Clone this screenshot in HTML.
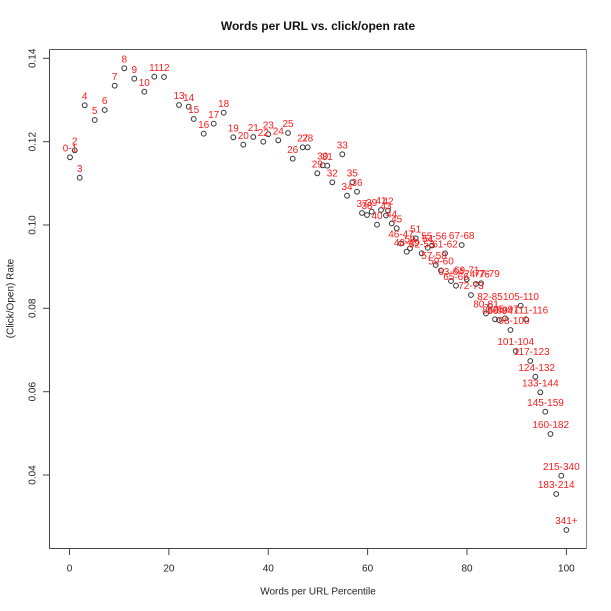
<!DOCTYPE html>
<html>
<head>
<meta charset="utf-8">
<style>
  html,body{margin:0;padding:0;background:#fff;}
  svg{display:block;}
  text{font-family:"Liberation Sans", Arial, sans-serif;}
  .lab{fill:#ff1a1a;font-size:10px;text-anchor:middle;}
  .tk{fill:#222;font-size:10px;text-anchor:middle;}
  circle{fill:none;stroke:#333;stroke-width:1;}
</style>
</head>
<body>
<svg width="611" height="611" viewBox="0 0 611 611" xmlns="http://www.w3.org/2000/svg">
  <rect x="0" y="0" width="611" height="611" fill="#fff"/>
  <!-- title -->
  <text x="318" y="30" font-size="12" font-weight="bold" text-anchor="middle" fill="#111">Words per URL vs. click/open rate</text>

  <!-- plot box -->
  <line x1="49.5" y1="49.5" x2="586.5" y2="49.5" stroke="#555" stroke-width="1"/>
  <line x1="586.5" y1="49.5" x2="586.5" y2="548.5" stroke="#888" stroke-width="1"/>
  <line x1="49.5" y1="548.5" x2="586.5" y2="548.5" stroke="#444" stroke-width="1"/>
  <line x1="49.5" y1="49.5" x2="49.5" y2="548.5" stroke="#444" stroke-width="1"/>

  <!-- x ticks -->
  <g stroke="#444" stroke-width="1">
    <line x1="69.5" y1="548.5" x2="69.5" y2="555"/>
    <line x1="168.9" y1="548.5" x2="168.9" y2="555"/>
    <line x1="268.3" y1="548.5" x2="268.3" y2="555"/>
    <line x1="367.6" y1="548.5" x2="367.6" y2="555"/>
    <line x1="467" y1="548.5" x2="467" y2="555"/>
    <line x1="566.4" y1="548.5" x2="566.4" y2="555"/>
  </g>
  <text class="tk" x="69.5" y="571.5">0</text>
  <text class="tk" x="168.9" y="571.5">20</text>
  <text class="tk" x="268.3" y="571.5">40</text>
  <text class="tk" x="367.6" y="571.5">60</text>
  <text class="tk" x="467" y="571.5">80</text>
  <text class="tk" x="566.4" y="571.5">100</text>
  <text class="tk" x="318" y="594.5">Words per URL Percentile</text>

  <!-- y ticks -->
  <g stroke="#444" stroke-width="1">
    <line x1="43" y1="58.3" x2="49.5" y2="58.3"/>
    <line x1="43" y1="141.7" x2="49.5" y2="141.7"/>
    <line x1="43" y1="225" x2="49.5" y2="225"/>
    <line x1="43" y1="308.3" x2="49.5" y2="308.3"/>
    <line x1="43" y1="391.7" x2="49.5" y2="391.7"/>
    <line x1="43" y1="475" x2="49.5" y2="475"/>
  </g>
  <text class="tk" transform="translate(35.5,58.3) rotate(-90)">0.14</text>
  <text class="tk" transform="translate(35.5,141.7) rotate(-90)">0.12</text>
  <text class="tk" transform="translate(35.5,225) rotate(-90)">0.10</text>
  <text class="tk" transform="translate(35.5,308.3) rotate(-90)">0.08</text>
  <text class="tk" transform="translate(35.5,391.7) rotate(-90)">0.06</text>
  <text class="tk" transform="translate(35.5,475) rotate(-90)">0.04</text>
  <text class="tk" transform="translate(13.5,298.5) rotate(-90)">(Click/Open) Rate</text>

  <!-- points -->
  <g>
    <circle cx="70" cy="157.3" r="2.4"/>
    <circle cx="74.7" cy="150.3" r="2.4"/>
    <circle cx="79.7" cy="177.7" r="2.4"/>
    <circle cx="84.7" cy="105.3" r="2.4"/>
    <circle cx="94.7" cy="120" r="2.4"/>
    <circle cx="104.7" cy="110" r="2.4"/>
    <circle cx="114.7" cy="85.7" r="2.4"/>
    <circle cx="124.3" cy="68.3" r="2.4"/>
    <circle cx="134.3" cy="78.7" r="2.4"/>
    <circle cx="144.3" cy="91.7" r="2.4"/>
    <circle cx="154.3" cy="76.7" r="2.4"/>
    <circle cx="164" cy="77" r="2.4"/>
    <circle cx="179" cy="105" r="2.4"/>
    <circle cx="188.7" cy="106.7" r="2.4"/>
    <circle cx="193.7" cy="119" r="2.4"/>
    <circle cx="203.7" cy="133.7" r="2.4"/>
    <circle cx="213.7" cy="123.7" r="2.4"/>
    <circle cx="223.7" cy="112.7" r="2.4"/>
    <circle cx="233.3" cy="137.3" r="2.4"/>
    <circle cx="243.3" cy="144.7" r="2.4"/>
    <circle cx="253.3" cy="137" r="2.4"/>
    <circle cx="263.3" cy="141.7" r="2.4"/>
    <circle cx="268.3" cy="134.3" r="2.4"/>
    <circle cx="278.3" cy="140.3" r="2.4"/>
    <circle cx="288" cy="133" r="2.4"/>
    <circle cx="292.7" cy="158.7" r="2.4"/>
    <circle cx="302.7" cy="147.3" r="2.4"/>
    <circle cx="307.7" cy="147.3" r="2.4"/>
    <circle cx="317.3" cy="173.3" r="2.4"/>
    <circle cx="322.7" cy="165.3" r="2.4"/>
    <circle cx="327.3" cy="165.7" r="2.4"/>
    <circle cx="332.3" cy="182.3" r="2.4"/>
    <circle cx="342.3" cy="154.3" r="2.4"/>
    <circle cx="347" cy="195.7" r="2.4"/>
    <circle cx="352.3" cy="182.3" r="2.4"/>
    <circle cx="357" cy="191.7" r="2.4"/>
    <circle cx="362" cy="213" r="2.4"/>
    <circle cx="367" cy="215" r="2.4"/>
    <circle cx="371.7" cy="211.7" r="2.4"/>
    <circle cx="377" cy="224.7" r="2.4"/>
    <circle cx="381" cy="210" r="2.4"/>
    <circle cx="388" cy="210.5" r="2.4"/>
    <circle cx="386" cy="215.5" r="2.4"/>
    <circle cx="391.7" cy="223.5" r="2.4"/>
    <circle cx="396.7" cy="228.3" r="2.4"/>
    <circle cx="401" cy="243.5" r="2.4"/>
    <circle cx="406.7" cy="251.7" r="2.4"/>
    <circle cx="410" cy="248.3" r="2.4"/>
    <circle cx="415.7" cy="238.3" r="2.4"/>
    <circle cx="421.7" cy="253.3" r="2.4"/>
    <circle cx="427.7" cy="247.7" r="2.4"/>
    <circle cx="432" cy="245.5" r="2.4"/>
    <circle cx="435.7" cy="265" r="2.4"/>
    <circle cx="441" cy="270.5" r="2.4"/>
    <circle cx="445" cy="253.3" r="2.4"/>
    <circle cx="451" cy="281" r="2.4"/>
    <circle cx="456" cy="285.7" r="2.4"/>
    <circle cx="461.7" cy="245" r="2.4"/>
    <circle cx="466.7" cy="279.3" r="2.4"/>
    <circle cx="471" cy="295" r="2.4"/>
    <circle cx="476" cy="284" r="2.4"/>
    <circle cx="481" cy="283.3" r="2.4"/>
    <circle cx="486" cy="313.5" r="2.4"/>
    <circle cx="490" cy="306" r="2.4"/>
    <circle cx="495" cy="319.3" r="2.4"/>
    <circle cx="499" cy="320" r="2.4"/>
    <circle cx="505" cy="318.3" r="2.4"/>
    <circle cx="510.5" cy="330" r="2.4"/>
    <circle cx="515.7" cy="351" r="2.4"/>
    <circle cx="520.7" cy="305.7" r="2.4"/>
    <circle cx="526" cy="319.3" r="2.4"/>
    <circle cx="530.3" cy="361" r="2.4"/>
    <circle cx="535.3" cy="376.7" r="2.4"/>
    <circle cx="540.3" cy="392.3" r="2.4"/>
    <circle cx="545.3" cy="411.7" r="2.4"/>
    <circle cx="550.5" cy="434" r="2.4"/>
    <circle cx="556.2" cy="494" r="2.4"/>
    <circle cx="561.3" cy="475.7" r="2.4"/>
    <circle cx="566.4" cy="530" r="2.4"/>
  </g>

  <!-- labels (baseline = point y - 5.8) -->
  <g class="lab">
    <text class="lab" x="70" y="151.5">0-1</text>
    <text class="lab" x="74.7" y="144.5">2</text>
    <text class="lab" x="79.7" y="171.9">3</text>
    <text class="lab" x="84.7" y="99.5">4</text>
    <text class="lab" x="94.7" y="114.2">5</text>
    <text class="lab" x="104.7" y="104.2">6</text>
    <text class="lab" x="114.7" y="79.9">7</text>
    <text class="lab" x="124.3" y="62.5">8</text>
    <text class="lab" x="134.3" y="72.9">9</text>
    <text class="lab" x="144.3" y="85.9">10</text>
    <text class="lab" x="154.3" y="70.9">11</text>
    <text class="lab" x="164" y="71.2">12</text>
    <text class="lab" x="179" y="99.2">13</text>
    <text class="lab" x="188.7" y="100.9">14</text>
    <text class="lab" x="193.7" y="113.2">15</text>
    <text class="lab" x="203.7" y="127.9">16</text>
    <text class="lab" x="213.7" y="117.9">17</text>
    <text class="lab" x="223.7" y="106.9">18</text>
    <text class="lab" x="233.3" y="131.5">19</text>
    <text class="lab" x="243.3" y="138.9">20</text>
    <text class="lab" x="253.3" y="131.2">21</text>
    <text class="lab" x="263.3" y="135.9">22</text>
    <text class="lab" x="268.3" y="128.5">23</text>
    <text class="lab" x="278.3" y="134.5">24</text>
    <text class="lab" x="288" y="127.2">25</text>
    <text class="lab" x="292.7" y="152.9">26</text>
    <text class="lab" x="302.7" y="141.5">27</text>
    <text class="lab" x="307.7" y="141.5">28</text>
    <text class="lab" x="317.3" y="167.5">29</text>
    <text class="lab" x="322.7" y="159.5">30</text>
    <text class="lab" x="327.3" y="159.9">31</text>
    <text class="lab" x="332.3" y="176.5">32</text>
    <text class="lab" x="342.3" y="148.5">33</text>
    <text class="lab" x="347" y="189.9">34</text>
    <text class="lab" x="352.3" y="176.5">35</text>
    <text class="lab" x="357" y="185.9">36</text>
    <text class="lab" x="362" y="207.2">37</text>
    <text class="lab" x="367" y="209.2">38</text>
    <text class="lab" x="371.7" y="205.9">39</text>
    <text class="lab" x="377" y="218.9">40</text>
    <text class="lab" x="381" y="204.2">41</text>
    <text class="lab" x="388" y="204.7">42</text>
    <text class="lab" x="386" y="209.7">43</text>
    <text class="lab" x="391.7" y="217.7">44</text>
    <text class="lab" x="396.7" y="222.5">45</text>
    <text class="lab" x="401" y="237.7">46-47</text>
    <text class="lab" x="406.7" y="245.9">48-49</text>
    <text class="lab" x="410" y="242.5">50</text>
    <text class="lab" x="415.7" y="232.5">51</text>
    <text class="lab" x="421.7" y="247.5">52-53</text>
    <text class="lab" x="427.7" y="241.9">54</text>
    <text class="lab" x="434" y="239.5">55-56</text>
    <text class="lab" x="434" y="259.2">57-58</text>
    <text class="lab" x="441" y="264.7">59-60</text>
    <text class="lab" x="445" y="247.5">61-62</text>
    <text class="lab" x="451" y="275.2">63-64</text>
    <text class="lab" x="456" y="279.9">65-66</text>
    <text class="lab" x="461.7" y="239.2">67-68</text>
    <text class="lab" x="466.7" y="273.5">69-71</text>
    <text class="lab" x="471" y="289.2">72-73</text>
    <text class="lab" x="477" y="277.5">74-76</text>
    <text class="lab" x="487" y="277.2">77-79</text>
    <text class="lab" x="486" y="307.7">80-81</text>
    <text class="lab" x="490" y="300.2">82-85</text>
    <text class="lab" x="495" y="313.5">86-89</text>
    <text class="lab" x="500" y="314.2">90-94</text>
    <text class="lab" x="506" y="312.5">95-97</text>
    <text class="lab" x="514" y="324.2">98-100</text>
    <text class="lab" x="515.7" y="345.2">101-104</text>
    <text class="lab" x="521" y="299.9">105-110</text>
    <text class="lab" x="531" y="313.5">111-116</text>
    <text class="lab" x="531.7" y="355.2">117-123</text>
    <text class="lab" x="536.7" y="370.9">124-132</text>
    <text class="lab" x="540.3" y="386.5">133-144</text>
    <text class="lab" x="545.5" y="405.9">145-159</text>
    <text class="lab" x="550.7" y="428.2">160-182</text>
    <text class="lab" x="556.2" y="488.2">183-214</text>
    <text class="lab" x="561.3" y="469.9">215-340</text>
    <text class="lab" x="566.4" y="524.2">341+</text>
  </g>
</svg>
</body>
</html>
